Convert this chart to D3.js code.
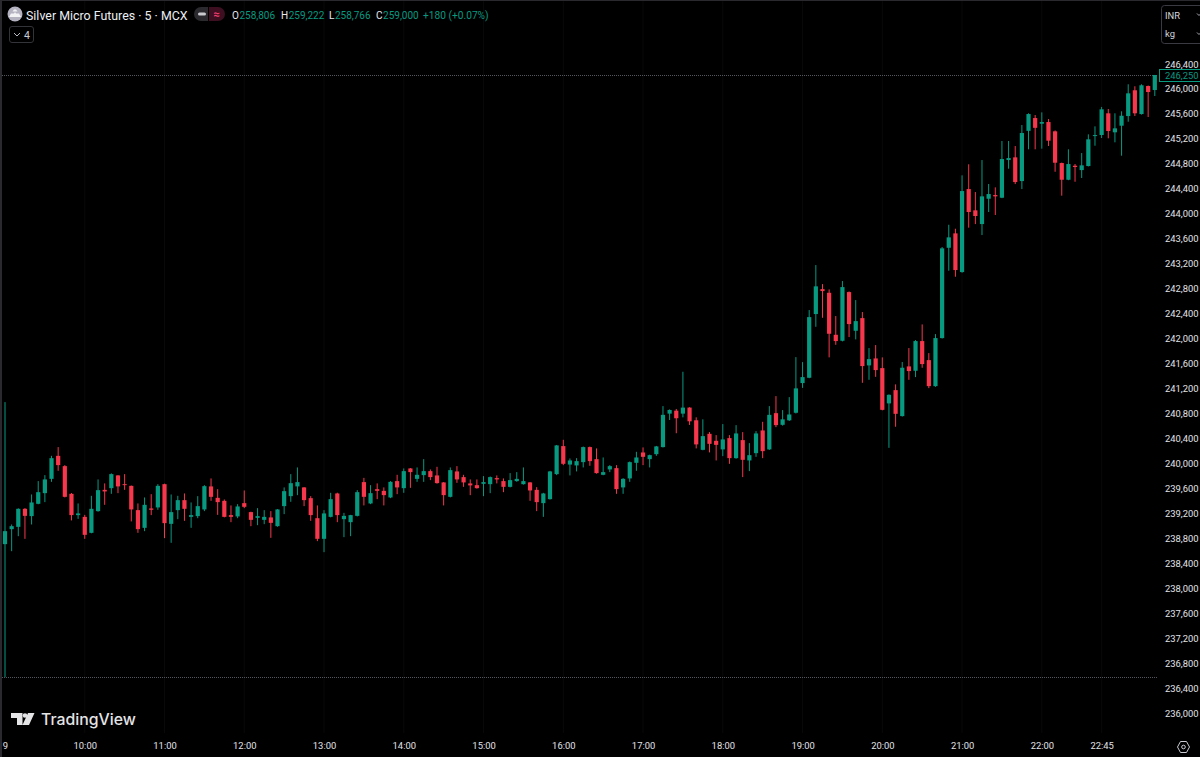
<!DOCTYPE html>
<html>
<head>
<meta charset="utf-8">
<title>Silver Micro Futures</title>
<script src="https://cdn.jsdelivr.net/npm/d3@7"></script>
<style>
  html, body { margin: 0; padding: 0; background: #000; overflow: hidden; }
  text { font-family: Roboto, "Liberation Sans", sans-serif; }
</style>
</head>
<body>
<svg id="chart" width="1200" height="757"></svg>
<script>
// 5 minute bars
const opens = [
  238706,238946,238983,239272,239155,239352,239523,239752,240121,239956,
  239512,239171,239143,238887,239235,239576,239603,239807,239667,239640,
  239251,238967,239278,239294,239667,239031,239251,239411,239143,239155,
  239262,239631,239448,239400,239171,239150,239363,239219,239127,239095,
  239134,238994,239315,239475,239631,239615,239443,239122,238791,239143,
  239518,239106,239058,239159,239700,239358,239587,239560,239454,239716,
  239603,239919,239752,239812,239876,239807,239695,239464,239871,239780,
  239679,239651,239672,239667,239764,239716,239624,239716,239667,239695,
  239576,239363,239427,239828,240277,239981,239967,240020,240261,240068,
  239817,239903,239924,239615,239759,240009,240175,240068,240148,240261,
  240797,240845,240797,240894,240691,240217,240474,240362,240224,240405,
  240084,240373,240047,240164,240528,240224,240805,240618,240690,240811,
  241287,241372,242393,242793,242734,242061,241965,242745,242125,242328,
  241570,241682,241527,240961,241174,240758,241554,241484,241960,241655,
  241238,242008,243455,243686,243066,244396,244055,243835,244241,244300,
  244257,244861,244904,244524,245329,245534,245443,245470,245321,244813,
  244545,244770,244700,244765,245245,245262,245610,245305,245411,245566,
  245979,245598,246047,245983
];
const highs = [
  240982,239021,239280,239283,239502,239716,239812,240121,240261,239972,
  239525,239358,239175,239480,239743,239679,239840,239812,239828,239645,
  239358,239454,239507,239667,239675,239502,239480,239518,239374,239475,
  239651,239759,239587,239422,239326,239347,239566,239225,239283,239251,
  239235,239267,239615,239828,239935,239620,239475,239326,239251,239528,
  239530,239207,239175,239571,239768,239651,239679,239615,239716,239817,
  239919,239925,239935,240068,239903,239945,239700,239935,239956,239817,
  239743,239743,239796,239790,239807,239759,239844,239860,239935,239700,
  239619,239528,239880,240295,240378,240079,240084,240270,240270,240240,
  240095,239972,239972,239764,240030,240185,240256,240140,240280,240918,
  240865,240872,241468,240900,240738,240706,240501,240453,240630,240453,
  240613,240501,240325,240517,240666,240918,241078,240854,241062,241703,
  241623,242457,243178,242873,242788,242361,242922,242755,242617,242425,
  241848,241896,241699,241105,241266,241624,241848,241976,242227,241767,
  242072,243467,243824,243760,244616,244793,244348,244861,244477,244423,
  245166,245166,245085,245422,245610,245582,245625,245518,245335,244820,
  245033,244797,244973,245273,245401,245712,245679,245610,245642,246075,
  246043,246075,246055,246224
];
const lows = [
  236574,238593,238834,238791,239021,239345,239379,239704,239881,239455,
  239086,239111,238791,238880,239225,239336,239512,239523,239576,239070,
  238887,238914,239171,239256,238802,238727,239106,239079,238967,239122,
  239235,239400,239175,239135,239058,239122,239283,238994,239010,239026,
  238807,238985,239187,239384,239491,239315,239079,238754,238577,239135,
  239058,238818,238834,239150,239326,239347,239427,239326,239443,239507,
  239528,239608,239704,239704,239732,239675,239326,239455,239688,239624,
  239491,239595,239475,239523,239679,239539,239615,239705,239660,239400,
  239235,239143,239420,239812,239972,239807,239871,239935,239961,239835,
  239810,239860,239512,239512,239704,239881,239972,239935,240121,240255,
  240695,240483,240738,240616,240240,240210,240176,240047,240116,239993,
  240075,239780,239876,240105,240084,240215,240581,240605,240680,240800,
  241210,241365,242189,242333,241699,241900,241955,242024,241987,241291,
  241339,241387,240850,240249,240587,240750,241339,241383,241532,241206,
  241227,242000,243087,242991,243055,243777,243835,243659,244028,243980,
  244250,244722,244476,244396,245033,245033,245043,245086,244673,244290,
  244538,244513,244573,244758,245090,245214,245209,245145,244930,245475,
  245566,245590,245550,245887
];
const closes = [
  238914,238994,239272,239159,239374,239539,239743,240084,239972,239464,
  239171,239198,238855,239272,239571,239550,239828,239631,239651,239262,
  238946,239336,239256,239640,239042,239219,239411,239272,239171,239315,
  239635,239464,239379,239143,239143,239310,239304,239095,239155,239143,
  239047,239262,239555,239683,239700,239411,239171,238791,239198,239427,
  239171,239159,239171,239539,239464,239523,239560,239491,239704,239615,
  239876,239860,239817,239876,239780,239684,239491,239892,239743,239695,
  239647,239603,239700,239780,239743,239624,239732,239752,239716,239566,
  239379,239518,239871,240288,239993,240047,240036,240261,240036,239844,
  239860,239956,239587,239752,240020,240095,240105,240132,240272,240778,
  240856,240723,240894,240674,240304,240437,240313,240297,240384,240084,
  240480,240057,240132,240480,240196,240778,240613,240706,240784,241202,
  241383,242344,242837,242761,242077,241960,242825,242232,242280,241559,
  241671,241495,240858,241099,240794,241533,241479,241960,241591,241238,
  242008,243446,243622,243098,244364,244028,243964,244279,244316,244279,
  244877,244893,244508,245294,245598,245377,245470,245171,244818,244545,
  244797,244749,244776,245193,245261,245674,245326,245369,245571,245930,
  245610,246059,245951,246224
];

// axis labels. 0 is the first bar, 12 bars to the hour
const timeBars = [0,12,24,36,48,60,72,84,96,108,120,132,144,156,165];
const timeLabels = ["9","10:00","11:00","12:00","13:00","14:00","15:00","16:00","17:00","18:00","19:00","20:00","21:00","22:00","22:45"];
const priceTicks = [236000,236400,236800,237200,237600,238000,238400,238800,239200,239600,240000,240400,240800,
                    241200,241600,242000,242400,242800,243200,243600,244000,244400,244800,245200,245600,246000,246400];
const lastPriceLabel = "246,250";
const legendValues = [["O","258,806"],["H","259,222"],["L","258,766"],["C","259,000"]];
const legendChange = "+180 (+0.07%)";

const green = "#089981";
const red = "#f7374b";
const labelColor = "#e2e4ea";

const svg = d3.select("#chart");

const x = d3.scaleLinear().domain([0, 173]).range([5, 1154.8]);
const y = d3.scaleLinear().domain([236000, 246400]).range([713, 64]);

svg.append("rect").attr("width", 1200).attr("height", 757).attr("fill", "#000");

// very faint grid
svg.append("g").selectAll("line").data(timeBars.slice(1)).join("line")
  .attr("x1", d => x(d)).attr("x2", d => x(d))
  .attr("y1", 0).attr("y2", 733)
  .attr("stroke", "#090909");

// window edges
svg.append("rect").attr("width", 1200).attr("height", 1).attr("fill", "#2a2a2e");
svg.append("rect").attr("width", 2).attr("height", 757).attr("fill", "#2a2a2e");

// high and low dotted lines
const dotted = [closes[173], lows[0]];
svg.append("g").selectAll("line").data(dotted).join("line")
  .attr("x1", 2).attr("x2", 1158)
  .attr("y1", d => Math.round(y(d)) + 0.5).attr("y2", d => Math.round(y(d)) + 0.5)
  .attr("stroke", "#55575e")
  .attr("stroke-dasharray", "1 1");

// candles
const bars = d3.range(opens.length);
const color = i => closes[i] >= opens[i] ? green : red;

svg.append("g").selectAll("line").data(bars).join("line")
  .attr("x1", i => x(i)).attr("x2", i => x(i))
  .attr("y1", i => y(highs[i])).attr("y2", i => y(lows[i]))
  .attr("stroke", color)
  .attr("stroke-width", 1);

svg.append("g").selectAll("rect").data(bars).join("rect")
  .attr("x", i => x(i) - 2.1)
  .attr("width", 4.2)
  .attr("y", i => y(Math.max(opens[i], closes[i])))
  .attr("height", i => Math.max(1, Math.abs(y(opens[i]) - y(closes[i]))))
  .attr("fill", color);

// price axis
const yAxis = svg.append("g")
  .attr("transform", "translate(1165,0)")
  .call(d3.axisRight(y).tickValues(priceTicks).tickSize(0).tickPadding(0).tickFormat(d3.format(",")));
yAxis.select(".domain").remove();
yAxis.selectAll("text").attr("fill", labelColor).attr("font-size", 9.4);

// time axis
const xAxis = svg.append("g")
  .attr("transform", "translate(0,742)")
  .call(d3.axisBottom(x).tickValues(timeBars).tickSize(0).tickPadding(0).tickFormat((d, i) => timeLabels[i]));
xAxis.select(".domain").remove();
xAxis.selectAll("text").attr("fill", labelColor).attr("font-size", 9.4);

// last price tag
svg.append("rect")
  .attr("x", 1159.5).attr("y", 69.5).attr("width", 41).attr("height", 12)
  .attr("fill", "#000").attr("stroke", green);
svg.append("text")
  .attr("x", 1165).attr("y", 75.5).attr("dy", "0.35em")
  .attr("fill", green).attr("font-size", 9.4)
  .text(lastPriceLabel);

// header
const head = svg.append("g");
head.append("circle").attr("cx", 15).attr("cy", 14).attr("r", 7.5).attr("fill", "#b4b2c0");
head.append("path").attr("d", "M9 17 L11 13.5 L14 13.5 L15 12 L16 13.5 L19 13.5 L21 17 Z M12.5 11.5 L17.5 11.5 L16 9.5 L14 9.5 Z").attr("fill", "#f2f2f5");
head.append("text").attr("x", 26).attr("y", 19.5).attr("fill", "#eceef3").attr("font-size", 12.4)
  .text("Silver Micro Futures · 5 · MCX");

// the little pill next to the title
head.append("path").attr("d", "M208 7 H201 A7 7 0 0 0 201 21 H208 Z").attr("fill", "#2b2b2f");
head.append("path").attr("d", "M209 7 H218 A7 7 0 0 1 218 21 H209 Z").attr("fill", "#3d0f20");
head.append("rect").attr("x", 198).attr("y", 12.5).attr("width", 8).attr("height", 3).attr("rx", 1.5).attr("fill", "#c9cad0");
head.append("text").attr("x", 216.5).attr("y", 18).attr("text-anchor", "middle").attr("fill", "#f23f72").attr("font-size", 11).attr("font-weight", 700).text("≈");

const legendX = [232, 281, 329, 376];
legendValues.forEach((d, i) => {
  const t = head.append("text").attr("x", legendX[i]).attr("y", 18.5).attr("font-size", 10);
  t.append("tspan").attr("fill", "#e6e8ee").text(d[0]);
  t.append("tspan").attr("fill", green).attr("dx", 0.5).text(d[1]);
});
head.append("text").attr("x", 423).attr("y", 18.5).attr("font-size", 10.2).attr("fill", green).text(legendChange);

// collapsed indicators button
head.append("rect").attr("x", 9.5).attr("y", 26.5).attr("width", 24).attr("height", 16).attr("rx", 2.5)
  .attr("fill", "none").attr("stroke", "#33343a");
head.append("path").attr("d", "M14 33 L17 36 L20 33").attr("fill", "none").attr("stroke", "#b8bac2");
head.append("text").attr("x", 24).attr("y", 38.5).attr("fill", "#c9cbd3").attr("font-size", 10.5).text("4");

// currency and unit box
const unit = svg.append("g");
unit.append("rect").attr("x", 1161.5).attr("y", 5.5).attr("width", 44).attr("height", 38).attr("rx", 3)
  .attr("fill", "#000").attr("stroke", "#3a3b42");
unit.append("text").attr("x", 1165).attr("y", 18.5).attr("fill", "#d5d7df").attr("font-size", 9.4).text("INR");
unit.append("text").attr("x", 1165).attr("y", 36.5).attr("fill", "#d5d7df").attr("font-size", 9.4).text("kg");
unit.append("path").attr("d", "M1197 13.5 L1199 15.5 L1201 13.5 M1197 32.5 L1199 34.5 L1201 32.5").attr("fill", "none").attr("stroke", "#a8aab2");

// logo
const logo = svg.append("g").attr("fill", "#e4e4e6");
logo.append("path").attr("d", "M11 713 H22.5 V725 H17 V718 H11 Z M28 713 H34.5 L29 725 H22.5 Z");
logo.append("circle").attr("cx", 25).attr("cy", 715.5).attr("r", 2.3);
logo.append("text").attr("x", 41).attr("y", 725).attr("font-size", 15.8).attr("font-weight", 500)
  .style("font-family", "Inter, Roboto, sans-serif").text("TradingView");

// settings hexagon, bottom right
const gear = svg.append("g").attr("fill", "none").attr("stroke", "#c9cbd3");
gear.append("path").attr("d", "M1177.5 747 L1180.5 741.5 L1186.5 741.5 L1189.5 747 L1186.5 752.5 L1180.5 752.5 Z");
gear.append("circle").attr("cx", 1183.5).attr("cy", 747).attr("r", 1.8);
</script>
</body>
</html>
